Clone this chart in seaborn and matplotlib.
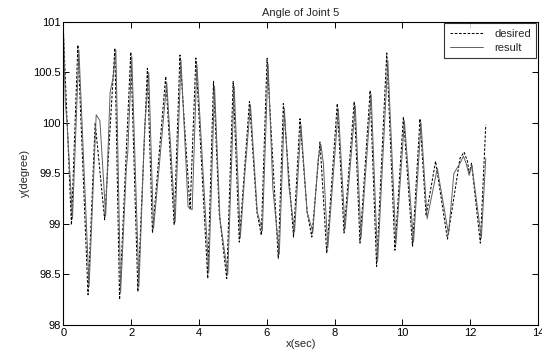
import numpy as np
import pandas as pd
import matplotlib
matplotlib.use("Agg")
import matplotlib.pyplot as plt
import seaborn as sns

# Joint 5 trajectory: turning points of the reference ("desired") signal
desired_t = [0.00, 0.24, 0.43, 0.73, 0.94, 1.22, 1.52, 1.66, 1.99, 2.20,
             2.48, 2.63, 3.02, 3.27, 3.44, 3.74, 3.91, 4.26, 4.43, 4.60,
             4.82, 5.01, 5.19, 5.49, 5.71, 5.84, 6.01, 6.34, 6.49, 6.79,
             6.98, 7.19, 7.33, 7.57, 7.77, 8.08, 8.28, 8.58, 8.75, 9.05,
             9.24, 9.54, 9.78, 10.03, 10.30, 10.52, 10.70, 10.98, 11.33, 11.70,
             11.82, 11.92, 11.97, 12.04, 12.30, 12.46]
desired_y = [100.92, 98.99, 100.77, 98.30, 100.00, 99.04, 100.74, 98.25, 100.70, 98.33,
             100.54, 98.91, 100.46, 98.99, 100.67, 99.14, 100.64, 98.46, 100.41, 99.10,
             98.46, 100.41, 98.82, 100.21, 99.12, 98.89, 100.64, 98.66, 100.19, 98.87,
             100.04, 99.12, 98.87, 99.81, 98.71, 100.19, 98.91, 100.21, 98.81, 100.32,
             98.58, 100.69, 98.74, 100.06, 98.78, 100.04, 99.08, 99.62, 98.85, 99.65,
             99.71, 99.62, 99.50, 99.60, 98.81, 99.98]

# Measured joint angle ("result")
result_t = [0.00, 0.06, 0.12, 0.27, 0.46, 0.76, 0.97, 1.08, 1.25, 1.38,
            1.47, 1.55, 1.69, 1.86, 1.90, 2.02, 2.23, 2.40, 2.52, 2.66,
            2.85, 3.05, 3.30, 3.47, 3.68, 3.80, 3.94, 4.29, 4.46, 4.62,
            4.85, 5.04, 5.22, 5.35, 5.52, 5.72, 5.87, 6.04, 6.18, 6.37,
            6.52, 6.65, 6.82, 7.01, 7.19, 7.36, 7.52, 7.60, 7.67, 7.80,
            8.11, 8.31, 8.61, 8.78, 9.08, 9.27, 9.57, 9.81, 10.06, 10.33,
            10.55, 10.73, 11.03, 11.36, 11.52, 11.70, 11.80, 11.88, 11.97, 12.05,
            12.33, 12.46]
result_y = [100.98, 100.20, 99.95, 99.05, 100.72, 98.38, 100.08, 100.02, 99.08, 100.30,
            100.45, 100.72, 98.32, 99.55, 99.70, 100.66, 98.38, 99.95, 100.50, 98.95,
            99.65, 100.40, 99.02, 100.62, 99.17, 99.14, 100.58, 98.52, 100.36, 99.05,
            98.50, 100.36, 98.86, 99.48, 100.18, 99.12, 98.93, 100.58, 99.35, 98.70,
            100.14, 99.38, 98.92, 99.98, 99.12, 98.92, 99.65, 99.78, 99.60, 98.76,
            100.14, 98.95, 100.17, 98.86, 100.28, 98.63, 100.62, 98.80, 100.02, 98.82,
            100.00, 99.05, 99.55, 98.90, 99.50, 99.60, 99.67, 99.60, 99.48, 99.58,
            98.86, 99.65]

x_ticks = [0, 2, 4, 6, 8, 10, 12, 14]
y_ticks = [98, 98.5, 99, 99.5, 100, 100.5, 101]
y_tick_labels = ["98", "98.5", "99", "99.5", "100", "100.5", "101"]

desired = pd.DataFrame({"t": desired_t, "angle": desired_y})
result = pd.DataFrame({"t": result_t, "angle": result_y})

sns.set_style("ticks")
plt.rcParams["font.family"] = ["Liberation Sans", "DejaVu Sans"]

fig = plt.figure(figsize=(5.42, 3.60), dpi=100)
ax = fig.add_axes([0.1168, 0.0972, 0.8758, 0.8425])

sns.lineplot(data=desired, x="t", y="angle", ax=ax, color="black",
             linewidth=0.75, linestyle=(0, (2.5, 1.6)), label="desired")
sns.lineplot(data=result, x="t", y="angle", ax=ax, color="#606060",
             linewidth=0.7, label="result")

ax.set_xlim(0, 14)
ax.set_ylim(98, 101)
ax.set_xticks(x_ticks)
ax.set_yticks(y_ticks)
ax.set_yticklabels(y_tick_labels)
ax.tick_params(direction="in", length=4, width=0.7, labelsize=8,
               top=True, right=True, pad=2, colors="black")
for s in ax.spines.values():
    s.set_color("black")
    s.set_linewidth(0.8)

ax.set_title("Angle of Joint 5", fontsize=8, pad=4)
ax.set_xlabel("x(sec)", fontsize=8, labelpad=1)
ax.set_ylabel("y(degree)", fontsize=8, labelpad=2)

leg = ax.legend(loc="upper right", fontsize=8, frameon=True, fancybox=False,
                borderaxespad=0.15, handlelength=3.0, borderpad=0.5,
                labelspacing=0.35, handletextpad=1.0)
leg.get_frame().set_edgecolor("black")
leg.get_frame().set_linewidth(0.8)

fig.savefig("out.png", dpi=100, facecolor="white")
